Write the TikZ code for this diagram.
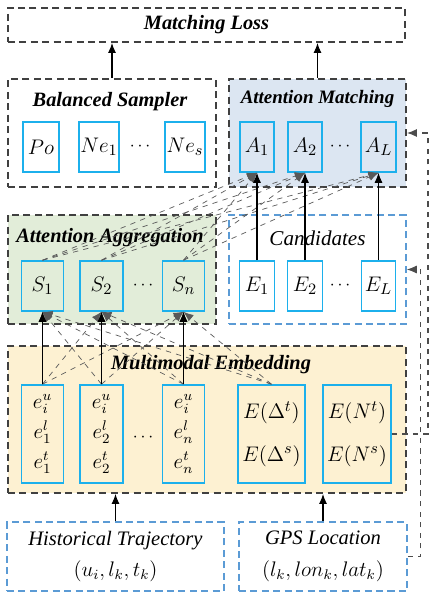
\documentclass[tikz,border=0pt]{standalone}
\usepackage{fontspec}
\setmainfont{Liberation Serif}
\usepackage{tikz}
\usetikzlibrary{arrows.meta, positioning, calc}

\definecolor{boxgray}{HTML}{404040}
\definecolor{cellblue}{HTML}{1CB0EC}
\definecolor{candblue}{HTML}{5B9BD5}
\definecolor{matchfill}{HTML}{DCE6F2}
\definecolor{aggfill}{HTML}{E2EDD9}
\definecolor{embfill}{HTML}{FDF1D2}

\begin{document}
\begin{tikzpicture}[
    group/.style={rectangle, draw=boxgray, line width=1.1pt, dash pattern=on 4pt off 2.5pt, inner sep=0pt},
    inputbox/.style={rectangle, draw=candblue, line width=0.9pt, dash pattern=on 4pt off 2.5pt, inner sep=0pt, align=center, font=\fontsize{11.7}{16}\selectfont\itshape},
    cell/.style={rectangle, draw=cellblue, line width=0.9pt, inner sep=0pt, font=\fontsize{13}{15}\selectfont},
    stack/.style={cell, align=center, font=\fontsize{11.8}{14}\selectfont},
    title/.style={font=\fontsize{11.6}{14}\selectfont\bfseries\itshape},
    flow/.style={-{Latex[length=2mm, width=1.6mm]}, line width=0.6pt},
    attn/.style={-{Latex[length=2mm, width=1.6mm]}, line width=0.4pt, dashed, black!65},
    feedback/.style={-{Latex[length=2mm, width=1.6mm]}, line width=0.6pt, dashed, black!70}
]
    \useasboundingbox (0,0) rectangle (8.82,-12.1);

    % Groups
    \node[group, title, minimum width=7.94cm, minimum height=0.68cm] (loss) at (4.13,-0.5) {Matching Loss};
    \node[group, minimum width=4.16cm, minimum height=2.16cm] (sampler) at (2.24,-2.66) {};
    \node[group, fill=matchfill, minimum width=3.54cm, minimum height=2.16cm] (matching) at (6.35,-2.66) {};
    \node[group, fill=aggfill, minimum width=4.16cm, minimum height=2.18cm] (aggregation) at (2.24,-5.39) {};
    \node[group, draw=candblue, line width=0.9pt, minimum width=3.54cm, minimum height=2.18cm] (candidates) at (6.35,-5.39) {};
    \node[group, fill=embfill, minimum width=7.96cm, minimum height=2.94cm] (embedding) at (4.14,-8.39) {};

    % Titles
    \node[title] (samplerT) at (2.2,-2.04) {Balanced Sampler};
    \node[title, font=\fontsize{10.8}{14}\selectfont\bfseries\itshape] (matchingT) at (6.35,-1.98) {Attention Matching};
    \node[title] (aggregationT) at (2.2,-4.76) {Attention Aggregation};
    \node[font=\fontsize{12}{14}\selectfont\itshape] (candidatesT) at (6.35,-4.76) {Candidates};
    \node[title] (embeddingT) at (4.22,-7.3) {Multimodal Embedding};

    % Sampler and matching cells
    \node[cell, minimum width=0.72cm, minimum height=1cm] (Po) at (0.82,-2.94) {$Po$};
    \node[cell, minimum width=0.8cm, minimum height=1cm] (Ne1) at (1.98,-2.94) {$Ne_1$};
    \node (dotsN) at (2.8,-2.94) {$\cdots$};
    \node[cell, minimum width=0.8cm, minimum height=1cm] (Nes) at (3.7,-2.94) {$Ne_s$};
    \node[cell, minimum width=0.68cm, minimum height=1cm] (A1) at (5.14,-2.94) {$A_1$};
    \node[cell, minimum width=0.68cm, minimum height=1cm] (A2) at (6.1,-2.94) {$A_2$};
    \node (dotsA) at (6.8,-2.94) {$\cdots$};
    \node[cell, minimum width=0.7cm, minimum height=1cm] (AL) at (7.57,-2.94) {$A_L$};

    % Aggregation and candidate cells
    \node[cell, minimum width=0.84cm, minimum height=1cm] (S1) at (0.85,-5.72) {$S_1$};
    \node[cell, minimum width=0.86cm, minimum height=1cm] (S2) at (2.03,-5.72) {$S_2$};
    \node (dotsS) at (2.86,-5.72) {$\cdots$};
    \node[cell, minimum width=0.84cm, minimum height=1cm] (Sn) at (3.67,-5.72) {$S_n$};
    \node[cell, minimum width=0.7cm, minimum height=1cm] (E1) at (5.14,-5.72) {$E_1$};
    \node[cell, minimum width=0.7cm, minimum height=1cm] (E2) at (6.1,-5.72) {$E_2$};
    \node (dotsE) at (6.8,-5.72) {$\cdots$};
    \node[cell, minimum width=0.68cm, minimum height=1cm] (EL) at (7.57,-5.72) {$E_L$};

    % Embedding cells
    \node[stack, minimum width=0.84cm, minimum height=1.96cm] (e1) at (0.85,-8.68) {$e_i^u$\\[3pt]$e_1^l$\\[3pt]$e_1^t$};
    \node[stack, minimum width=0.86cm, minimum height=1.96cm] (e2) at (2.03,-8.68) {$e_i^u$\\[3pt]$e_2^l$\\[3pt]$e_2^t$};
    \node (dotse) at (2.86,-8.76) {$\cdots$};
    \node[stack, minimum width=0.84cm, minimum height=1.96cm] (en) at (3.67,-8.68) {$e_i^u$\\[3pt]$e_n^l$\\[3pt]$e_n^t$};
    \node[stack, font=\fontsize{12.5}{24}\selectfont, minimum width=1.34cm, minimum height=1.96cm] (ED) at (5.43,-8.68) {$E(\Delta^t)$\\$E(\Delta^s)$};
    \node[stack, font=\fontsize{12.5}{24}\selectfont, minimum width=1.36cm, minimum height=1.96cm] (EN) at (7.14,-8.68) {$E(N^t)$\\$E(N^s)$};

    % Inputs
    \node[inputbox, minimum width=4.34cm, minimum height=1.38cm] (history) at (2.31,-11.13) {Historical Trajectory\\[2pt]$(u_i, l_k, t_k)$};
    \node[inputbox, minimum width=3.36cm, minimum height=1.38cm] (gps) at (6.46,-11.13) {GPS Location\\[2pt]$(l_k, lon_k, lat_k)$};

    % Attention links
    \foreach \s in {S1,S2,Sn}{
        \foreach \a in {A1,A2,AL}
            \draw[attn] (\s.north) -- (\a.south);
        \foreach \e in {e1,e2,en,ED}
            \draw[attn] (\e.north) -- (\s.south);
    }

    % Main flow
    \draw[flow] (history.north) -- (history.north |- embedding.south);
    \draw[flow] (gps.north) -- (gps.north |- embedding.south);
    \draw[flow] (e1.north) -- (S1.south);
    \draw[flow] (e2.north) -- (S2.south);
    \draw[flow] (en.north) -- (Sn.south);
    \draw[flow] (E1.north) -- (A1.south);
    \draw[flow] (E2.north) -- (A2.south);
    \draw[flow] (EL.north) -- (AL.south);
    \draw[flow] (sampler.north) -- (sampler.north |- loss.south);
    \draw[flow] (matching.north) -- (matching.north |- loss.south);

    % Feedback
    \draw[feedback] (EN.east) -| ($(matching.east)+(0.42,0)$) -- (matching.east);
    \draw[feedback] (gps.east) -| ($(candidates.east)+(0.28,0)$) -- (candidates.east);
\end{tikzpicture}
\end{document}
